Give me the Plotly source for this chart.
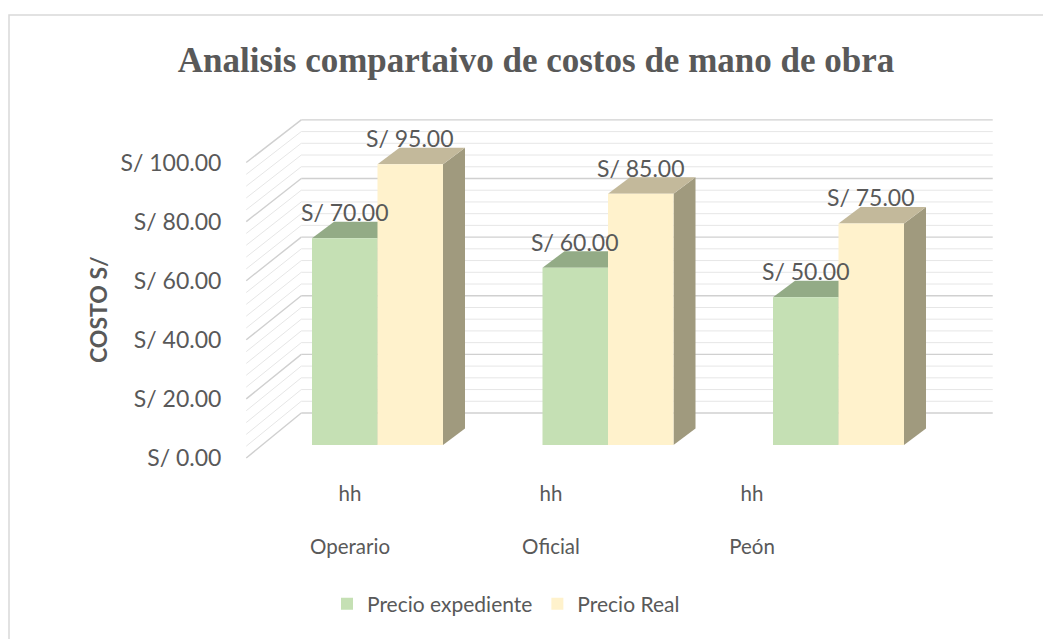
import plotly.graph_objects as go

# ---------------- data ----------------
categories = ["Operario", "Oficial", "Peón"]
units = ["hh", "hh", "hh"]
series_names = ["Precio expediente", "Precio Real"]
precio_expediente = [70, 60, 50]
precio_real = [95, 85, 75]
y_ticks = [0, 20, 40, 60, 80, 100]
minor_step = 4

# ---------------- styling / geometry (reference pixel coordinates) ----------------
OFF = 8                                   # page body margin in the browser
W, H = 1051, 639
L, R, T, B = 230, 1010, 100, 470          # plot area in pixels
XPX = 230.5                               # px per category
YPX = 2.955                               # px per value unit
X0PX, Y0PX = 377.5, 445                   # pixel of category 0 / value 0 on bar plane
FRONT_Y0PX = 458                          # value 0 on the front plane (tick labels)
LBL_X0PX, LBL_STEP = 350, 201             # category label positions
BAR_W = 65.5 / XPX
FRONT = (-16 / XPX, -13 / YPX)            # front edge offset from bar plane
BACK = (39 / XPX, 32 / YPX)               # back wall offset from bar plane
BACK_SCALE = 0.992
DEPTH = (22 / XPX, 16.5 / YPX)            # bar depth offset
TXT = "#595959"
FONT = "Lato"
FS_NUM = 23
FS_CAT = 20.5
FS_LEG = 21
FS_YT = 23

colors_front = ["#C5E0B4", "#FFF2CC"]
colors_top = ["#93AB86", "#C3B99B"]
colors_side = ["#7E9672", "#A09A7E"]

x_pos = list(range(len(categories)))
series = [precio_expediente, precio_real]


def money(v):
    return f"S/ {v:.2f}"


def px2paper_x(p):
    return (p - L) / (R - L)


def px2paper_y(p):
    return (B - p) / (B - T)


fig = go.Figure()
for s, (name, vals) in enumerate(zip(series_names, series)):
    fig.add_trace(go.Bar(
        x=x_pos, y=vals, name=name,
        marker=dict(color=colors_front[s], line=dict(width=0)),
        hoverinfo="y+name",
    ))
# invisible helper trace so the label axes (front plane / category labels) are drawn
fig.add_trace(go.Scatter(x=x_pos, y=[y_ticks[0]] * len(x_pos), xaxis="x2", yaxis="y2",
                         mode="markers", marker=dict(opacity=0), showlegend=False,
                         hoverinfo="skip"))

shapes = []
# wall gridlines
xl, xr = -0.5, len(categories) - 0.5
for v in range(0, max(y_ticks) + 1, minor_step):
    major = v % 20 == 0
    col = "#D0D0D0" if major else "#E6E6E6"
    wid = 1.4 if major else 1
    yb = BACK[1] + v * BACK_SCALE
    shapes.append(dict(type="line", xref="x", yref="y", layer="below",
                       x0=xl + BACK[0], x1=xr + BACK[0], y0=yb, y1=yb,
                       line=dict(color=col, width=wid)))
    shapes.append(dict(type="line", xref="x", yref="y", layer="below",
                       x0=xl + FRONT[0], x1=xl + BACK[0], y0=v + FRONT[1], y1=yb,
                       line=dict(color=col, width=wid)))

# 3D faces of bars
for s, vals in enumerate(series):
    for i, v in zip(x_pos, vals):
        x_left = i - BAR_W + s * BAR_W
        x_right = x_left + BAR_W
        dx, dy = DEPTH
        top = (f"M{x_left},{v} L{x_left+dx},{v+dy} L{x_right+dx},{v+dy} "
               f"L{x_right},{v} Z")
        side = (f"M{x_right},0 L{x_right},{v} L{x_right+dx},{v+dy} "
                f"L{x_right+dx},{dy} Z")
        shapes.append(dict(type="path", path=side, xref="x", yref="y", layer="below",
                           fillcolor=colors_side[s], line=dict(width=0)))
        shapes.append(dict(type="path", path=top, xref="x", yref="y", layer="below",
                           fillcolor=colors_top[s], line=dict(width=0)))

# chart border
shapes.append(dict(type="rect", xref="paper", yref="paper", layer="below",
                   x0=px2paper_x(9), x1=px2paper_x(1070),
                   y0=px2paper_y(660), y1=px2paper_y(15),
                   line=dict(color="#D9D9D9", width=1.5), fillcolor="rgba(0,0,0,0)"))

annotations = []
for s, vals in enumerate(series):
    for i, v in zip(x_pos, vals):
        xc = i - BAR_W / 2 + s * BAR_W
        annotations.append(dict(x=xc, y=v, xref="x", yref="y", text=money(v),
                                showarrow=False, yshift=26, yanchor="middle",
                                xanchor="center",
                                font=dict(family=FONT, size=FS_NUM, color=TXT)))
annotations.append(dict(x=px2paper_x(98), y=px2paper_y(310), xref="paper", yref="paper",
                        text="<b>COSTO S/</b>", textangle=-90, showarrow=False,
                        xanchor="center", yanchor="middle",
                        font=dict(family=FONT, size=FS_YT, color=TXT)))

fig.update_layout(
    width=W - OFF, height=H - OFF,
    margin=dict(l=L - OFF, r=W - R, t=T - OFF, b=H - B, pad=0),
    paper_bgcolor="white", plot_bgcolor="white",
    barmode="group", bargap=1 - 2 * BAR_W, bargroupgap=0,
    title=dict(text="<b>Analisis compartaivo de costos de mano de obra</b>",
               x=(536 - OFF) / (W - OFF), xanchor="center", xref="container",
               y=1 - (60 - OFF) / (H - OFF), yanchor="middle", yref="container",
               font=dict(family="Liberation Serif", size=35, color=TXT)),
    xaxis=dict(range=[(L - X0PX) / XPX, (R - X0PX) / XPX], visible=False),
    yaxis=dict(range=[(Y0PX - B) / YPX, (Y0PX - T) / YPX], visible=False),
    xaxis2=dict(overlaying="x", anchor="y", side="bottom",
                range=[(L - LBL_X0PX) / LBL_STEP, (R - LBL_X0PX) / LBL_STEP],
                tickvals=x_pos,
                ticktext=[f"{u}<br><br>{c}" for u, c in zip(units, categories)],
                ticks="outside", ticklen=5, tickcolor="rgba(0,0,0,0)",
                showgrid=False, zeroline=False, showline=False,
                tickfont=dict(family=FONT, size=FS_CAT, color=TXT)),
    yaxis2=dict(overlaying="y", anchor="x", side="left",
                range=[(FRONT_Y0PX - B) / YPX, (FRONT_Y0PX - T) / YPX],
                tickvals=y_ticks, ticktext=[money(v) for v in y_ticks],
                ticks="outside", ticklen=3, tickcolor="rgba(0,0,0,0)",
                showgrid=False, zeroline=False, showline=False,
                tickfont=dict(family=FONT, size=FS_NUM, color=TXT)),
    legend=dict(orientation="h", x=px2paper_x(506), xanchor="center",
                y=px2paper_y(604), yanchor="middle",
                font=dict(family=FONT, size=FS_LEG, color=TXT),
                bgcolor="rgba(0,0,0,0)"),
    shapes=shapes, annotations=annotations,
    showlegend=True,
)

fig.write_html("out.html")
